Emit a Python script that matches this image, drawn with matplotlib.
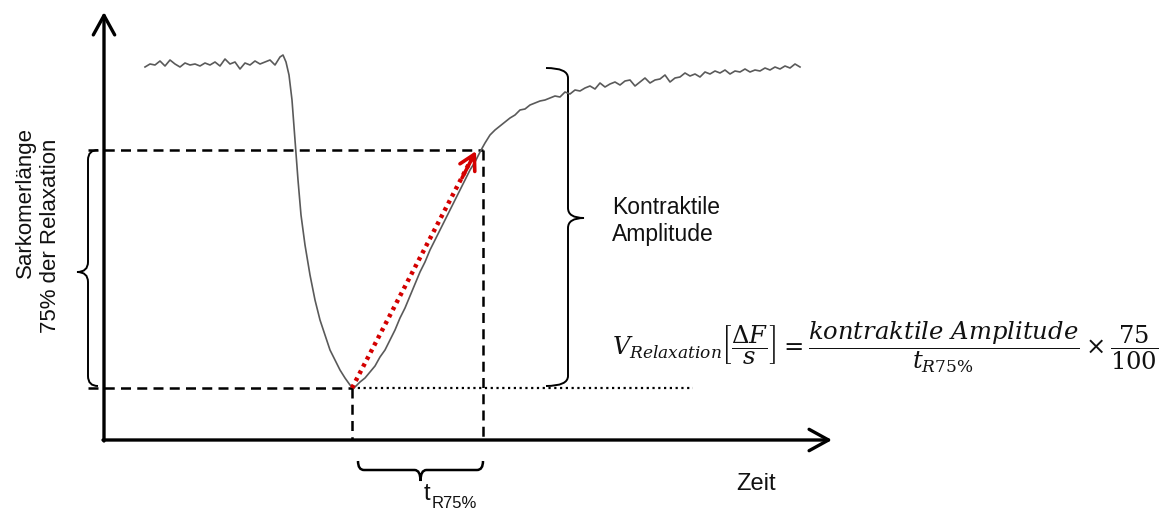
import matplotlib
matplotlib.use("Agg")
import matplotlib.pyplot as plt
from matplotlib.path import Path
from matplotlib.patches import PathPatch, FancyArrowPatch

plt.rcParams['font.family'] = ['Liberation Sans', 'DejaVu Sans']
plt.rcParams['mathtext.fontset'] = 'dejavuserif'

# ---- data (trace; pixel-like units, y grows downward) ----
trace_x = [145, 150, 155, 160, 165, 170, 175, 180, 185, 190, 195, 200, 205, 210, 215,
           220, 225, 230, 235, 240, 245, 250, 255, 260, 265, 270, 275, 280, 283, 286,
           289, 292, 295, 298, 301, 305, 310, 315, 320, 325, 330, 335, 340, 345, 350,
           354, 360, 365, 370, 375, 380, 385, 390, 395, 400, 405, 410, 415, 420, 425,
           430, 435, 440, 445, 450, 455, 460, 465, 470, 475, 480, 485, 490, 495, 500,
           505, 510, 515, 520, 525, 530, 535, 540, 545, 550, 555, 560, 565, 570, 575,
           580, 585, 590, 595, 600, 605, 610, 615, 620, 625, 630, 635, 640, 645, 650,
           655, 660, 665, 670, 675, 680, 685, 690, 695, 700, 705, 710, 715, 720, 725,
           730, 735, 740, 745, 750, 755, 760, 765, 770, 775, 780, 785, 790, 795, 800]
trace_y = [67, 64, 65, 61, 66, 60, 64, 67, 63, 65, 64, 66, 63, 65, 62,
           66, 59, 64, 62, 69, 63, 65, 61, 64, 62, 60, 65, 57, 55, 62,
           75, 100, 140, 180, 215, 245, 275, 300, 320, 335, 350, 360, 370, 378, 385,
           388, 382, 378, 372, 366, 357, 350, 340, 330, 318, 308, 296, 284, 272, 262,
           250, 240, 230, 220, 210, 200, 190, 180, 170, 162, 152, 143, 135, 130, 126,
           122, 118, 115, 110, 109, 105, 103, 101, 100, 98, 96, 97, 92, 94, 90,
           91, 88, 86, 89, 83, 87, 84, 82, 85, 81, 80, 86, 82, 78, 83,
           80, 79, 75, 82, 78, 77, 73, 76, 74, 77, 72, 74, 71, 73, 70,
           74, 71, 72, 69, 72, 70, 71, 68, 70, 67, 69, 66, 68, 64, 67]

level_75 = 150        # 75 % relaxation level
level_min = 388       # minimum (peak contraction)
t_start = 352         # time of minimum
t_75 = 483            # time at 75 % relaxation

fig = plt.figure(figsize=(11.68, 5.12), dpi=100)
ax = fig.add_axes([0, 0, 1, 1])
ax.set_xlim(0, 1168)
ax.set_ylim(512, 0)
ax.axis('off')

# axes arrows
ax.add_patch(FancyArrowPatch((104, 441), (104, 12), arrowstyle='->,head_length=1.0,head_width=0.55',
                             lw=2.4, color='black', mutation_scale=14, shrinkA=0, shrinkB=0))
ax.add_patch(FancyArrowPatch((103, 440), (832, 440), arrowstyle='->,head_length=1.0,head_width=0.55',
                             lw=2.4, color='black', mutation_scale=14, shrinkA=0, shrinkB=0))

# trace
ax.plot(trace_x, trace_y, color='#5a5a5a', lw=1.2, zorder=3)

# dashed guide lines
dash = dict(color='black', lw=1.8, linestyle=(0, (4, 2.5)))
ax.plot([88, t_75], [level_75, level_75], **dash)
ax.plot([t_75, t_75], [level_75, 440], **dash)
ax.plot([88, t_start], [level_min, level_min], **dash)
ax.plot([t_start, t_start], [level_min, 440], **dash)
ax.plot([t_start, 693], [level_min, level_min], color='black', lw=1.6, linestyle=(0, (1, 1.6)))

# red dotted arrow
ax.plot([t_start, 472], [level_min, 158], color='#d40000', lw=3.2, linestyle=(0, (0.8, 1.0)), zorder=4)
ax.add_patch(FancyArrowPatch((462, 178), (476, 151), arrowstyle='->,head_length=0.9,head_width=0.5',
                             lw=2.6, color='#d40000', mutation_scale=12, shrinkA=0, shrinkB=0, zorder=4))


def vbrace(xtip, xspine, xpoint, y0, y1, ym, r=10):
    verts = [(xtip, y0), (xspine, y0), (xspine, y0 + r),
             (xspine, ym - r), (xspine, ym), (xpoint, ym),
             (xspine, ym), (xspine, ym + r),
             (xspine, y1 - r), (xspine, y1), (xtip, y1)]
    codes = [Path.MOVETO, Path.CURVE3, Path.CURVE3,
             Path.LINETO, Path.CURVE3, Path.CURVE3,
             Path.CURVE3, Path.CURVE3,
             Path.LINETO, Path.CURVE3, Path.CURVE3]
    ax.add_patch(PathPatch(Path(verts, codes), fill=False, lw=1.4, color='black'))


def hbrace(ytip, yspine, ypoint, x0, x1, r=6):
    xm = (x0 + x1) / 2
    verts = [(x0, ytip), (x0, yspine), (x0 + r, yspine),
             (xm - r, yspine), (xm, yspine), (xm, ypoint),
             (xm, yspine), (xm + r, yspine),
             (x1 - r, yspine), (x1, yspine), (x1, ytip)]
    codes = [Path.MOVETO, Path.CURVE3, Path.CURVE3,
             Path.LINETO, Path.CURVE3, Path.CURVE3,
             Path.CURVE3, Path.CURVE3,
             Path.LINETO, Path.CURVE3, Path.CURVE3]
    ax.add_patch(PathPatch(Path(verts, codes), fill=False, lw=1.8, color='black'))


vbrace(98, 88, 77, 150, 386, 272)
vbrace(546, 568, 584, 68, 386, 218)
hbrace(461, 470, 481, 358, 483)

# texts
txt = '#111111'
ax.text(25, 202, 'Sarkomerlänge', rotation=90, ha='center', va='center', fontsize=16, color=txt)
ax.text(51, 236, '75% der Relaxation', rotation=90, ha='center', va='center', fontsize=16, color=txt)
ax.text(612, 221, 'Kontraktile\nAmplitude', ha='left', va='center', fontsize=16.5,
        linespacing=1.25, color=txt)
ax.text(756, 484, 'Zeit', ha='center', va='center', fontsize=17, color=txt)
ax.text(427, 494, 't', ha='center', va='center', fontsize=17, color=txt)
ax.text(432, 503, 'R75%', ha='left', va='center', fontsize=12, color=txt)

ax.text(612, 347, r'$V_{Relaxation}\left[\dfrac{\Delta F}{s}\right] = \dfrac{kontraktile\ Amplitude}{t_{R75\%}} \times \dfrac{75}{100}$',
        ha='left', va='center', fontsize=17.5, color=txt)

fig.savefig('out.png', dpi=100)
